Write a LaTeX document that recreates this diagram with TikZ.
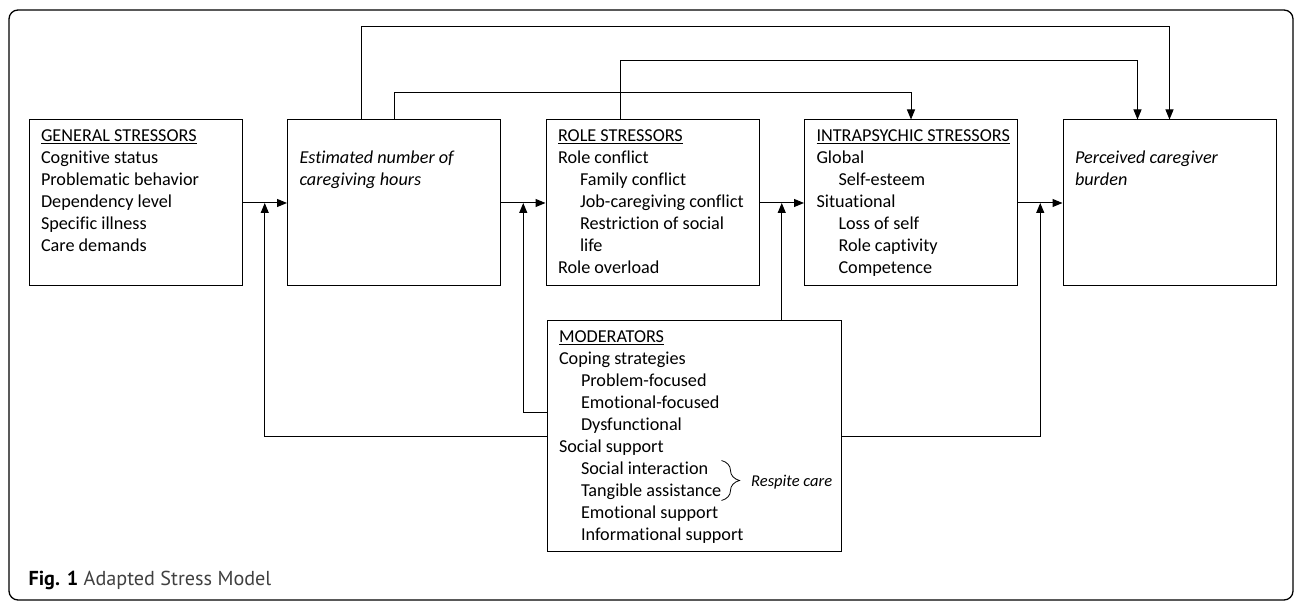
\documentclass[tikz,border=0pt]{standalone}
\usepackage{fontspec}
\setmainfont[Ligatures=NoCommon]{Carlito}
\newfontfamily\capfont{PT Sans}
\usepackage{xcolor}
\usetikzlibrary{calc}
\usetikzlibrary{positioning}
\usetikzlibrary{arrows.meta}
\usetikzlibrary{decorations.pathreplacing}
\tikzset{
block/.style={draw, line width=1pt, inner xsep=12pt, inner ysep=0pt,
	font=\fontsize{18.2pt}{22pt}\selectfont},
flow/.style={line width=1pt, -{Triangle[length=10pt,width=8pt]}},
}
\newcommand{\boxtext}[3]{\parbox[c][#2][t]{#1}{\raggedright\rule{0pt}{22pt}#3}}
\newcommand{\ind}{\hspace*{22pt}}

\begin{document}
\begin{tikzpicture}[x=1pt, y=1pt, node distance=258.5pt]
\useasboundingbox (0,0) rectangle (1296,602);
\draw[line width=1.3pt, rounded corners=9pt] (9,2) rectangle (1293,592);

%Place the nodes
\node[block] (gen) at (135.5,399) {\boxtext{189pt}{166pt}{\underline{GENERAL STRESSORS}\\
	Cognitive status\\ Problematic behavior\\ Dependency level\\ Specific illness\\ Care demands}};
\node[block, right of=gen] (est) {\boxtext{189pt}{166pt}{\\
	\textit{Estimated number of}\\ \textit{caregiving hours}}};
\node[block, right of=est] (role) {\boxtext{189pt}{166pt}{\underline{ROLE STRESSORS}\\
	Role conflict\\ \ind Family conflict\\ \ind Job-caregiving conflict\\
	\ind Restriction of social\\ \ind life\\ Role overload}};
\node[block, right of=role] (intra) {\boxtext{189pt}{166pt}{\underline{INTRAPSYCHIC STRESSORS}\\
	Global\\ \ind Self-esteem\\ Situational\\ \ind Loss of self\\ \ind Role captivity\\ \ind Competence}};
\node[block, right of=intra] (perc) {\boxtext{189pt}{166pt}{\\
	\textit{Perceived caregiver}\\ \textit{burden}}};

\node[block] (mod) at (694,165.5) {\boxtext{270pt}{231pt}{\underline{MODERATORS}\\
	Coping strategies\\ \ind Problem-focused\\ \ind Emotional-focused\\ \ind Dysfunctional\\
	Social support\\ \ind Social interaction\\ \ind Tangible assistance\\
	\ind Emotional support\\ \ind Informational support}};

\node[anchor=base west, font=\capfont\fontsize{20.2pt}{24pt}\selectfont] (caption) at (25,16)
	{\textbf{Fig. 1} {\color{black!75}Adapted Stress Model}};

%Main chain
\coordinate (j1) at ($(gen.east)!0.5!(est.west)$);
\coordinate (j2) at ($(est.east)!0.5!(role.west)$);
\coordinate (j3) at ($(role.east)!0.5!(intra.west)$);
\coordinate (j4) at ($(intra.east)!0.5!(perc.west)$);

\draw[flow] (gen) to (est);
\draw[flow] (est) to (role);
\draw[flow] (role) to (intra);
\draw[flow] (intra) to (perc);

%Moderating paths
\draw[flow] (mod.west) -| (j1);
\draw[flow] ([yshift=23.5pt]mod.west) -| (j2);
\draw[flow] (mod.north -| j3) -- (j3);
\draw[flow] (mod.east) -| (j4);

%Paths over the top
\draw[flow] (est.north) -- ++(0,27) -| (intra.north);
\draw[flow] ([xshift=-33pt]est.north) -- ++(0,93) -| (perc.north);
\draw[flow] ([xshift=-32pt]role.north) -- ++(0,59) -| ([xshift=-32pt]perc.north);

%Respite care brace
\coordinate (bt) at ([shift={(175pt,-140pt)}]mod.north west);
\coordinate (bb) at ([shift={(175pt,-180pt)}]mod.north west);
\draw[decorate, decoration={brace, amplitude=18pt}, line width=0.8pt] (bt) -- (bb)
	node[midway, anchor=west, xshift=26pt, yshift=-2pt, font=\fontsize{16.5pt}{20pt}\selectfont] (respite) {\textit{Respite care}};

\end{tikzpicture}
\end{document}
